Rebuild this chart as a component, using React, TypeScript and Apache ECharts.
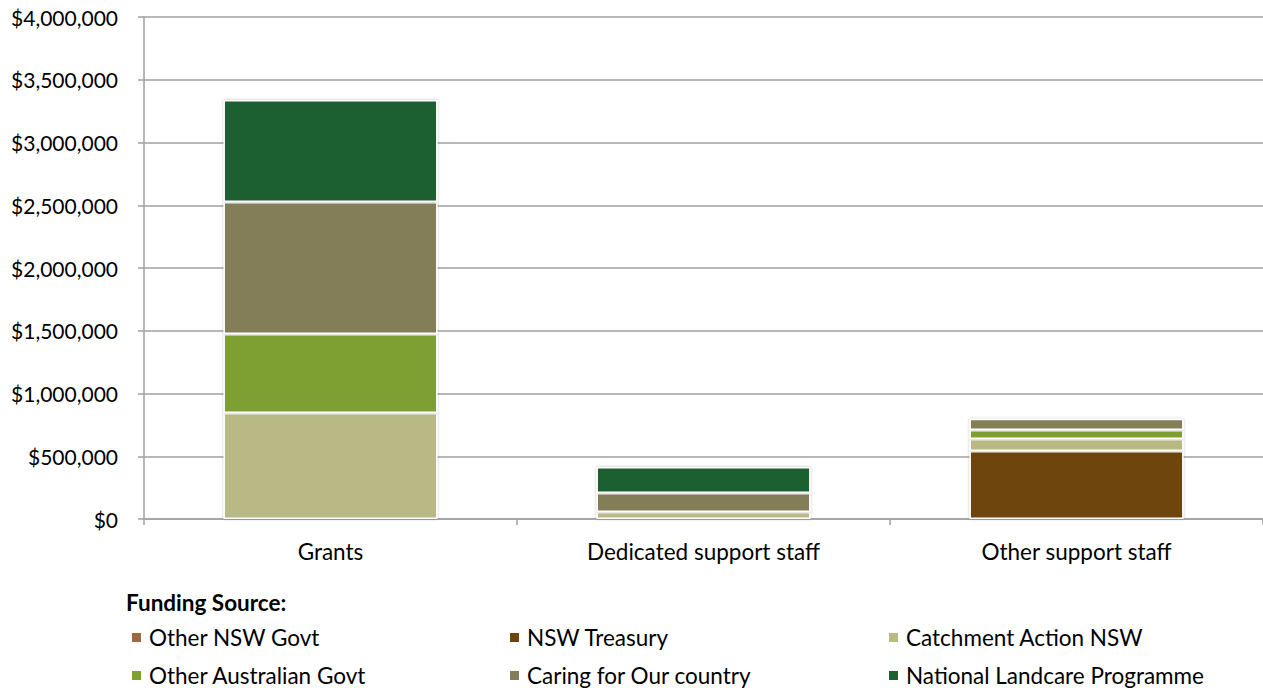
import React, { useEffect, useRef } from "react";
import * as echarts from "echarts";

const categories = ["Grants", "Dedicated support staff", "Other support staff"];
const seriesNames = [
  "Other NSW Govt",
  "NSW Treasury",
  "Catchment Action NSW",
  "Other Australian Govt",
  "Caring for Our country",
  "National Landcare Programme",
];
const otherNswGovt = [0, 0, 0];
const nswTreasury = [0, 0, 542000];
const catchmentAction = [845000, 56000, 96000];
const otherAusGovt = [629000, 0, 72000];
const caringForCountry = [1052000, 151000, 88000];
const nationalLandcare = [813000, 207000, 0];
const colors = ["#9b6a44", "#6e4511", "#b9b985", "#7ea032", "#847e58", "#1c6030"];
const yTicks = [0, 500000, 1000000, 1500000, 2000000, 2500000, 3000000, 3500000, 4000000];

const FONT = "Lato, 'Open Sans', sans-serif";

export default function App() {
  const ref = useRef<HTMLDivElement>(null);
  useEffect(() => {
    if (!ref.current) return;
    const chart = echarts.init(ref.current, undefined, { renderer: "svg" });
    const values = [otherNswGovt, nswTreasury, catchmentAction, otherAusGovt, caringForCountry, nationalLandcare];
    const legendPos = [
      { left: 125, top: 621 },
      { left: 503, top: 621 },
      { left: 882, top: 621 },
      { left: 125, top: 659 },
      { left: 503, top: 659 },
      { left: 882, top: 659 },
    ];
    chart.setOption({
      animation: false,
      textStyle: { fontFamily: FONT },
      grid: { left: 144, right: 0, top: 17, bottom: 169, containLabel: false },
      title: {
        text: "Funding Source:",
        left: 121,
        top: 586,
        textStyle: { fontFamily: FONT, fontSize: 22.5, fontWeight: "bold", color: "#000" },
      },
      legend: seriesNames.map((n, i) => ({
        data: [n],
        left: legendPos[i].left,
        top: legendPos[i].top,
        itemWidth: 11,
        itemHeight: 11,
        itemGap: 4,
        icon: "rect",
        textStyle: { fontFamily: FONT, fontSize: 22.5, color: "#000", padding: [0, 0, 0, 2] },
      })),
      xAxis: {
        type: "category",
        data: categories,
        axisLine: { show: true, lineStyle: { color: "#a0a0a0", width: 1.5 } },
        axisTick: { show: true, length: 6, lineStyle: { color: "#a0a0a0", width: 1.5 } },
        axisLabel: { fontFamily: FONT, fontSize: 22.5, color: "#000", margin: 21 },
      },
      yAxis: {
        type: "value",
        min: 0,
        max: 4000000,
        interval: 500000,
        axisLine: { show: true, lineStyle: { color: "#a0a0a0", width: 1.5 } },
        axisTick: { show: true, length: 6, lineStyle: { color: "#a0a0a0", width: 1.5 } },
        splitLine: { show: true, lineStyle: { color: "#a0a0a0", width: 1.5 } },
        axisLabel: {
          fontFamily: FONT,
          fontSize: 21,
          color: "#000",
          margin: 26,
          customValues: yTicks,
          formatter: (v: number) => "$" + v.toLocaleString("en-US"),
        },
      },
      series: seriesNames.map((n, i) => ({
        name: n,
        type: "bar",
        stack: "total",
        barWidth: "57.4%",
        data: values[i],
        itemStyle: {
          color: colors[i],
          borderColor: "#ffffff",
          borderWidth: 1.5,
          shadowColor: "rgba(0,0,0,0.25)",
          shadowBlur: 3,
        },
      })),
    });
    return () => chart.dispose();
  }, []);
  return <div ref={ref} style={{ width: 1263, height: 688, position: "absolute", left: 0, top: 0 }} />;
}
